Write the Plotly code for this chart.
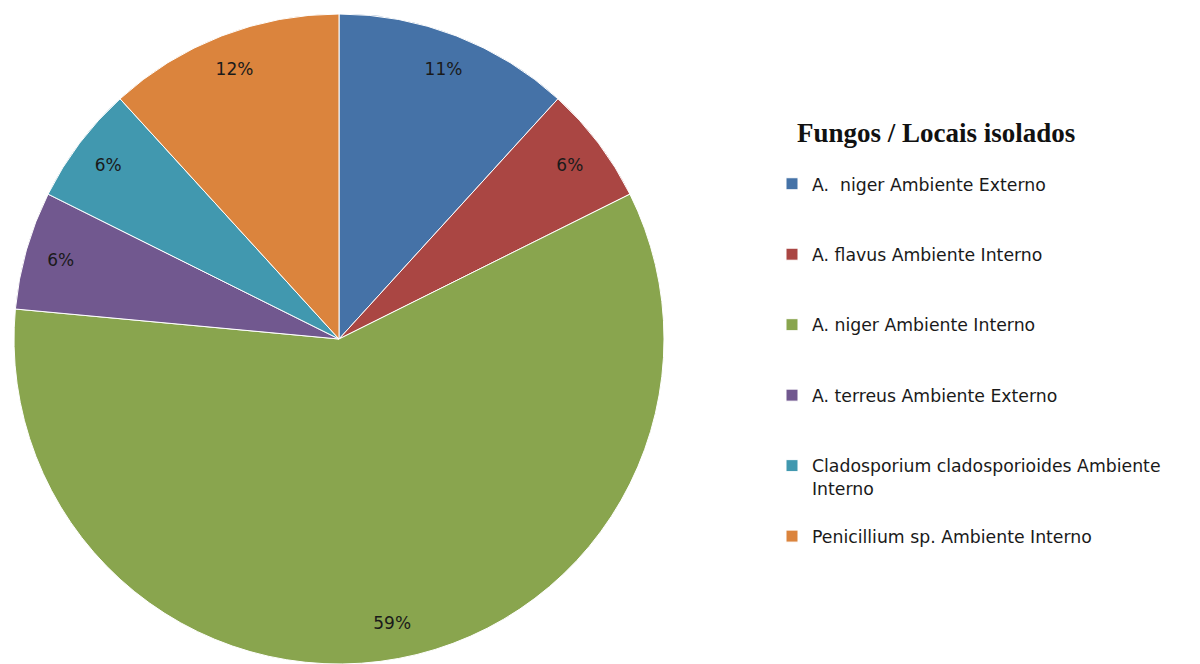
import plotly.graph_objects as go

labels = [
    "A.  niger Ambiente Externo",
    "A. flavus Ambiente Interno",
    "A. niger Ambiente Interno",
    "A. terreus Ambiente Externo",
    "Cladosporium cladosporioides Ambiente<br>Interno",
    "Penicillium sp. Ambiente Interno",
]
counts = [2, 1, 10, 1, 1, 2]
pct_labels = ["11%", "6%", "59%", "6%", "6%", "12%"]
colors = ["#4572A7", "#AA4643", "#89A54E", "#71588F", "#4198AF", "#DB843D"]
legend_title = "Fungos / Locais isolados"

# legend label padding to reproduce the wide item spacing
legend_labels = [l + "<br> " if "<br>" in l else l + "<br> <br> " for l in labels]

W, H = 1200, 664
OFF = 8  # page body margin offset
cx, cy, r = 339 - OFF, 339 - OFF, 325
dom_x = [(cx - r) / W, (cx + r) / W]
dom_y = [(H - cy - r) / H, (H - cy + r) / H]
dom_y = [max(0, dom_y[0]), min(1, dom_y[1])]

fig = go.Figure()
fig.add_trace(go.Pie(
    labels=legend_labels,
    values=counts,
    sort=False,
    direction="clockwise",
    rotation=0,
    marker=dict(colors=colors, line=dict(color="white", width=1)),
    textinfo="none",
    domain=dict(x=dom_x, y=dom_y),
    hoverinfo="label+percent",
))
fig.add_trace(go.Pie(
    labels=legend_labels,
    values=counts,
    sort=False,
    direction="clockwise",
    rotation=0,
    hole=0.78,
    marker=dict(colors=["rgba(0,0,0,0)"] * len(counts), line=dict(width=0)),
    text=pct_labels,
    textinfo="text",
    textposition="inside",
    insidetextorientation="horizontal",
    insidetextfont=dict(color="#1a1a1a", size=17, family="DejaVu Sans"),
    showlegend=False,
    hoverinfo="skip",
    domain=dict(x=dom_x, y=dom_y),
))

fig.add_annotation(
    text="<b>" + legend_title + "</b>",
    xref="paper", yref="paper",
    x=(795 - OFF) / W, xanchor="left",
    y=1 - (133 - OFF) / H, yanchor="middle",
    showarrow=False,
    font=dict(family="Liberation Serif", size=27, color="#111"),
)

fig.update_layout(
    width=W, height=H,
    margin=dict(l=0, r=0, t=0, b=0),
    paper_bgcolor="white",
    plot_bgcolor="white",
    legend=dict(
        x=(812 - OFF - 40) / W, xanchor="left",
        y=1 - (182 - OFF - 16) / H, yanchor="top",
        valign="top",
        font=dict(family="DejaVu Sans", size=17.3, color="#1a1a1a"),
        bgcolor="rgba(0,0,0,0)",
    ),
)

fig.write_html("out.html")
